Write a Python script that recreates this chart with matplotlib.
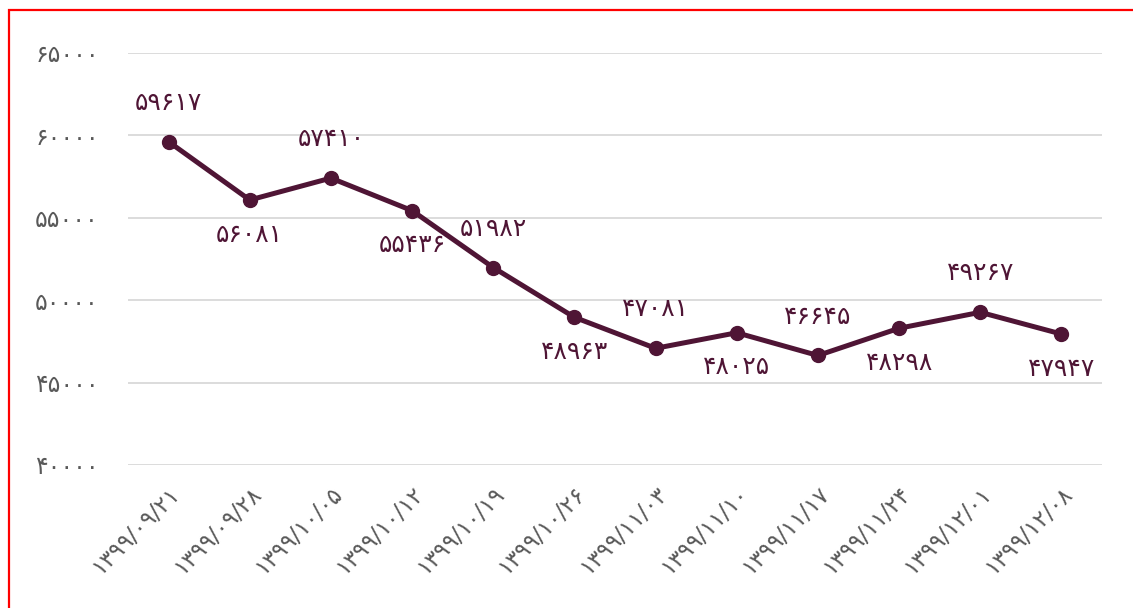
import matplotlib
matplotlib.use("Agg")
import matplotlib.pyplot as plt
from matplotlib.patches import Rectangle
from matplotlib.transforms import ScaledTranslation

dates = ["۱۳۹۹/۰۹/۲۱", "۱۳۹۹/۰۹/۲۸", "۱۳۹۹/۱۰/۰۵", "۱۳۹۹/۱۰/۱۲", "۱۳۹۹/۱۰/۱۹",
         "۱۳۹۹/۱۰/۲۶", "۱۳۹۹/۱۱/۰۳", "۱۳۹۹/۱۱/۱۰", "۱۳۹۹/۱۱/۱۷", "۱۳۹۹/۱۱/۲۴",
         "۱۳۹۹/۱۲/۰۱", "۱۳۹۹/۱۲/۰۸"]
values = [59617, 56081, 57410, 55436, 51982, 48963, 47081, 48025, 46645, 48298, 49267, 47947]
yticks = [40000, 45000, 50000, 55000, 60000, 65000]
label_pos = ["above", "below", "above", "below", "above", "below",
             "above", "below", "above", "below", "above", "below"]

fa_digits = str.maketrans("0123456789", "۰۱۲۳۴۵۶۷۸۹")
def fa(n):
    return str(n).translate(fa_digits)

W, H = 1133, 608
fig = plt.figure(figsize=(W / 100, H / 100), dpi=100)
plt.rcParams['font.family'] = ['DejaVu Sans']

# red frame
fig.patches.append(Rectangle((8.5 / W, -0.1), 1.2, 1 - 10.5 / H + 0.1,
                             transform=fig.transFigure, fill=False,
                             edgecolor="#ff0000", linewidth=1.6))

ax = fig.add_axes([128 / W, 1 - 465 / H, (1102 - 128) / W, (465 - 53) / H])
x = list(range(len(values)))
color = "#4f1535"
ax.plot(x, values, color=color, linewidth=3.6, marker="o", markersize=10,
        solid_capstyle="round", zorder=3)

for xi, v, p in zip(x, values, label_pos):
    off = 28 if p == "above" else -25
    ax.annotate(fa(v), (xi, v), xytext=(0, off), textcoords="offset points",
                ha="center", va="center", fontsize=18, color=color)

ax.set_xlim(-0.5, len(values) - 0.5)
ax.set_ylim(40000, 65000)
ax.set_yticks(yticks)
ax.set_yticklabels([fa(t) for t in yticks], fontsize=17, color="#595959")
ax.set_xticks(x)
ax.set_xticklabels(dates, rotation=45, ha="right", rotation_mode="anchor",
                   fontsize=16.5, color="#595959")
shift = ScaledTranslation(-16 / 100, -2 / 100, fig.dpi_scale_trans)
for lbl in ax.get_xticklabels():
    lbl.set_transform(lbl.get_transform() + shift)
ax.tick_params(axis="both", length=0)
ax.tick_params(axis="y", pad=21)
ax.tick_params(axis="x", pad=12)
for s in ax.spines.values():
    s.set_visible(False)
ax.yaxis.grid(True, color="#d9d9d9", linewidth=1.3)
ax.set_axisbelow(True)

fig.savefig("out.png", dpi=100)
